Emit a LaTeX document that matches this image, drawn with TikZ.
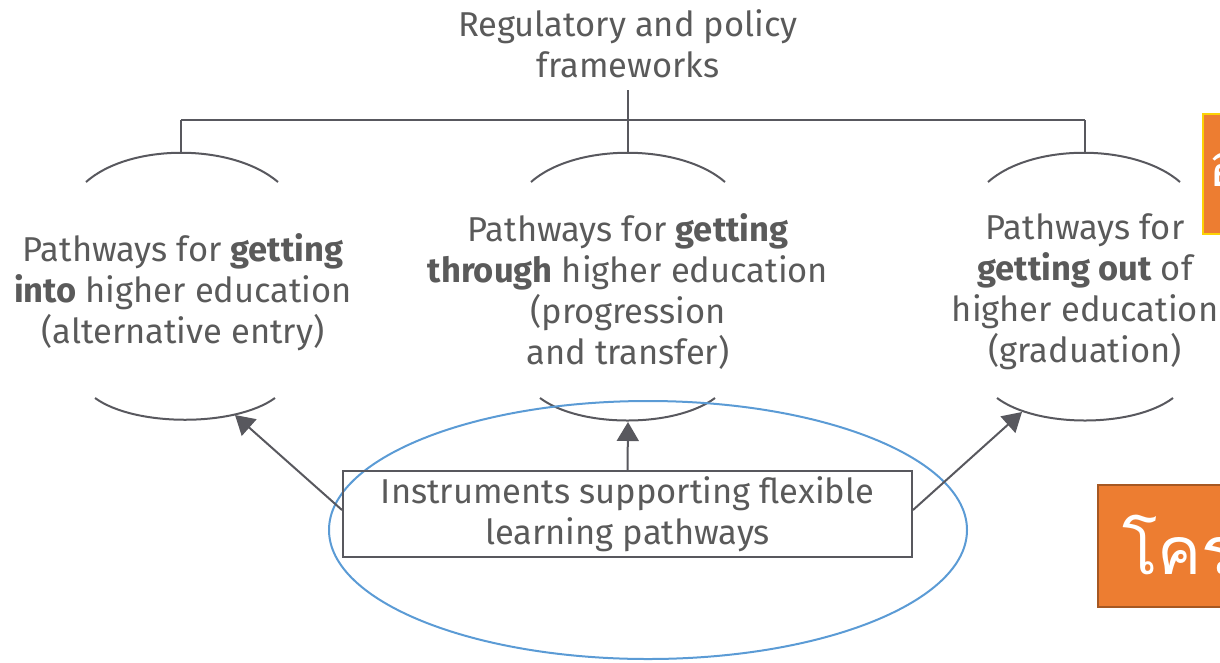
\documentclass[tikz,border=0pt]{standalone}
\usepackage{fontspec}
\setmainfont{Fira Sans}
\newfontfamily\thaifont[Script=Thai]{Loma}
\usetikzlibrary{arrows.meta,calc}
\definecolor{ln}{HTML}{58585E}
\definecolor{tx}{HTML}{5A5A5A}
\definecolor{hlblue}{HTML}{5B9BD5}
\definecolor{orng}{HTML}{ED7D31}
\tikzset{
  lbl/.style={text=tx,align=center,font=\fontsize{34.5}{41}\selectfont,inner sep=0pt},
  conn/.style={draw=ln,line width=2pt},
  arr/.style={draw=ln,line width=2pt,-{Triangle[width=22pt,length=19pt]}},
}
\begin{document}
\begin{tikzpicture}[x=1pt,y=-1pt]
\useasboundingbox (0,0) rectangle (1220,662);
\begin{scope}
\clip (0,0) rectangle (1220,662);
% title
\node[lbl] (title) at (628,44) {Regulatory and policy\\frameworks};
\coordinate (tb) at (628,90);
\coordinate (hc) at (628,120);
\coordinate (hl) at (181,120);
\coordinate (hr) at (1085,120);
\coordinate (al) at (181,153);
\coordinate (am) at (628,153);
\coordinate (ar) at (1085,153);
\draw[conn] (tb) -- (hc);
\draw[conn] (hl) -- (hr);
\draw[conn] (hl) -- (al);
\draw[conn] (hc) -- (am);
\draw[conn] (hr) -- (ar);
% top arcs
\draw[conn] (86,182) .. controls (130,143) and (232,143) .. (278,182);
\draw[conn] (531,182) .. controls (575,143) and (680,143) .. (725,182);
\draw[conn] (988,182) .. controls (1032,143) and (1135,143) .. (1180,182);
% bottom arcs
\draw[conn] (95,398) .. controls (135,427) and (235,427) .. (275,398);
\draw[conn] (540,398) .. controls (580,428) and (675,428) .. (715,398);
\draw[conn] (997,398) .. controls (1037,428) and (1133,428) .. (1173,398);
\coordinate (bl) at (235,415);
\coordinate (bm) at (628,422);
\coordinate (br) at (1022,412);
% texts
\node[lbl] (left) at (183,292) {Pathways for \textbf{getting}\\\textbf{into} higher education\\(alternative entry)};
\node[lbl] (mid) at (628,292) {Pathways for \textbf{getting}\\\textbf{through} higher education\\(progression\\and transfer)};
\node[lbl] (right) at (1085,292) {Pathways for\\\textbf{getting out} of\\higher education\\(graduation)};
% highlight ellipse
\draw[hlblue,line width=2pt] (648,530) ellipse [x radius=319, y radius=129];
% instruments box
\node[lbl,draw=ln,line width=2pt,minimum width=569pt,minimum height=86pt] (box) at (627.5,514) {Instruments supporting flexible\\learning pathways};
\draw[arr] ($(box.west)+(0,-4)$) -- (bl);
\draw[arr] (box.north) -- (bm);
\draw[arr] ($(box.east)+(0,-4)$) -- (br);
% orange boxes
\node[fill=orng,draw=yellow!70!orange,line width=1.5pt,minimum width=60pt,minimum height=120pt,anchor=north west,inner sep=0pt] (ob1) at (1202,113) {};
\node[text=white,anchor=west,font=\thaifont\fontsize{60}{60}\selectfont,inner sep=0pt] (ob1t) at (1208,170) {อ};
\node[fill=orng,draw=orng!70!black,line width=1.5pt,minimum width=200pt,minimum height=122pt,anchor=north west,inner sep=0pt] (ob2) at (1097,484) {};
\node[text=white,anchor=west,font=\thaifont\fontsize{66}{66}\selectfont,inner sep=0pt] (ob2t) at (1122,545) {โครงสร้าง};
\end{scope}
\end{tikzpicture}
\end{document}
